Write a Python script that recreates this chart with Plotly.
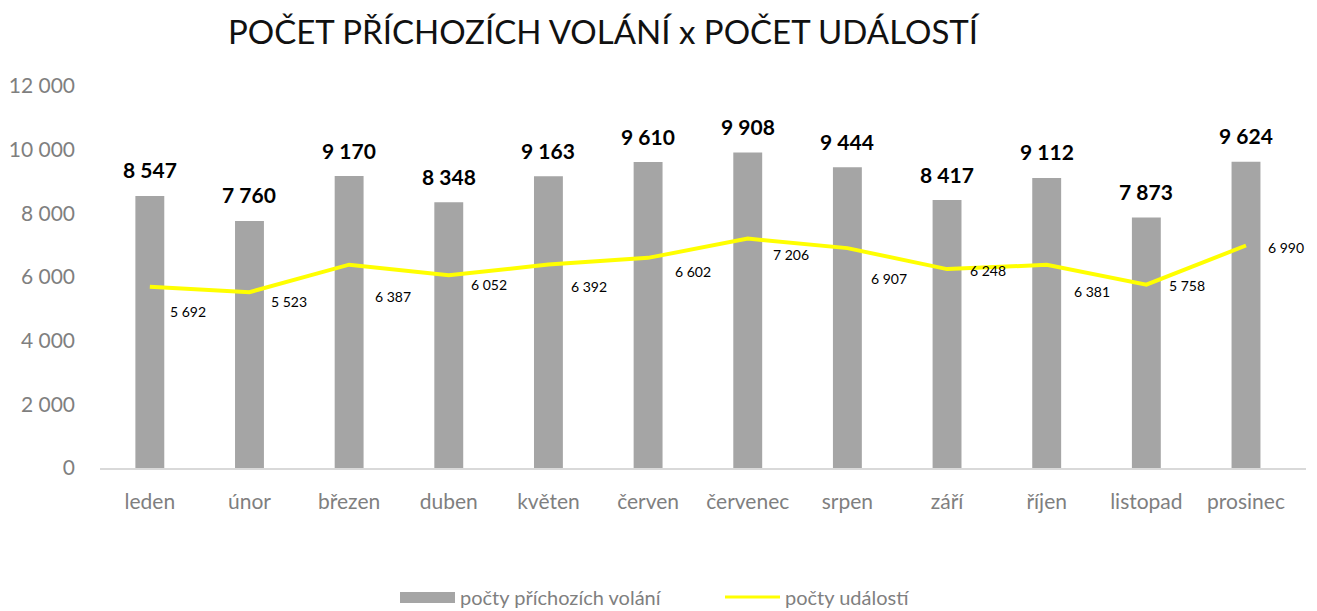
import plotly.graph_objects as go

months = ["leden", "únor", "březen", "duben", "květen", "červen",
          "červenec", "srpen", "září", "říjen", "listopad", "prosinec"]
calls = [8547, 7760, 9170, 8348, 9163, 9610, 9908, 9444, 8417, 9112, 7873, 9624]
events = [5692, 5523, 6387, 6052, 6392, 6602, 7206, 6907, 6248, 6381, 5758, 6990]
y_ticks = [0, 2000, 4000, 6000, 8000, 10000, 12000]
series_names = ["počty příchozích volání", "počty událostí"]

# label offsets (px) for the line data labels, as placed in the original
ev_dx = [38, 40, 44, 40, 41, 45, 43, 42, 41, 45, 41, 40]
ev_dy = [25, 9, 32, 9, 22, 14, 16, 30, 1, 27, 1, 2]

FONT = "Lato"
GRAY = "#7F7F7F"
BAR_COLOR = "#A5A5A5"
LINE_COLOR = "#FFFF00"

W, H = 1317, 611
L, R, T, B = 100, 11, 86, 143


def fmt(v):
    return f"{v:,}".replace(",", " ")


def px_x(px):
    return (px - L) / (W - L - R)


def px_y(py):
    return (H - B - py) / (H - T - B)


fig = go.Figure()
fig.add_trace(go.Bar(
    x=months, y=calls, name=series_names[0],
    marker=dict(color=BAR_COLOR, line=dict(width=0)), width=0.29,
    showlegend=False,
))
fig.add_trace(go.Scatter(
    x=months, y=events, name=series_names[1], mode="lines",
    line=dict(color=LINE_COLOR, width=4), showlegend=False,
))

annotations = []
for m, v in zip(months, calls):
    annotations.append(dict(
        x=m, y=v, xref="x", yref="y", text=f"<b>{fmt(v)}</b>", showarrow=False,
        xanchor="center", yanchor="middle", yshift=26,
        font=dict(family=FONT, size=21, color="#000000"),
    ))
for m, v, dx, dy in zip(months, events, ev_dx, ev_dy):
    annotations.append(dict(
        x=m, y=v, xref="x", yref="y", text=fmt(v), showarrow=False,
        xanchor="center", yanchor="middle", xshift=dx, yshift=-dy,
        font=dict(family=FONT, size=14, color="#000000"),
    ))

# custom legend (wide swatches as in the original)
shapes = [
    dict(type="rect", xref="paper", yref="paper",
         x0=px_x(400), x1=px_x(455), y0=px_y(603), y1=px_y(592),
         fillcolor=BAR_COLOR, line=dict(width=0)),
    dict(type="line", xref="paper", yref="paper",
         x0=px_x(725), x1=px_x(780), y0=px_y(597), y1=px_y(597),
         line=dict(color=LINE_COLOR, width=3)),
]
annotations.append(dict(
    x=px_x(458), y=px_y(597), xref="paper", yref="paper", text=series_names[0],
    showarrow=False, xanchor="left", yanchor="middle",
    font=dict(family=FONT, size=20, color=GRAY),
))
annotations.append(dict(
    x=px_x(783), y=px_y(597), xref="paper", yref="paper", text=series_names[1],
    showarrow=False, xanchor="left", yanchor="middle",
    font=dict(family=FONT, size=20, color=GRAY),
))

fig.update_layout(
    width=W, height=H,
    margin=dict(l=L, r=R, t=T, b=B, autoexpand=False),
    paper_bgcolor="white", plot_bgcolor="white",
    font=dict(family=FONT, color=GRAY),
    showlegend=False,
    title=dict(
        text="POČET PŘÍCHOZÍCH VOLÁNÍ x POČET UDÁLOSTÍ",
        x=603 / W, xanchor="center", y=1 - 32 / H, yanchor="middle",
        font=dict(family=FONT, size=33, color="#111111"),
    ),
    xaxis=dict(
        showgrid=False, showline=True, linecolor="#D9D9D9", linewidth=1.5,
        ticks="", tickfont=dict(family=FONT, size=21, color=GRAY),
        ticklabelstandoff=14, automargin=False,
    ),
    yaxis=dict(
        range=[0, 12000], tickvals=y_ticks, ticktext=[fmt(t) for t in y_ticks],
        showgrid=False, zeroline=False, showline=False, ticks="",
        tickfont=dict(family=FONT, size=21, color=GRAY),
        ticklabelstandoff=24, automargin=False,
    ),
    shapes=shapes,
    annotations=annotations,
)

fig.write_html(
    "out.html",
    config={"displayModeBar": False},
    post_script="document.body.style.margin='0';document.body.style.overflow='hidden';",
)
